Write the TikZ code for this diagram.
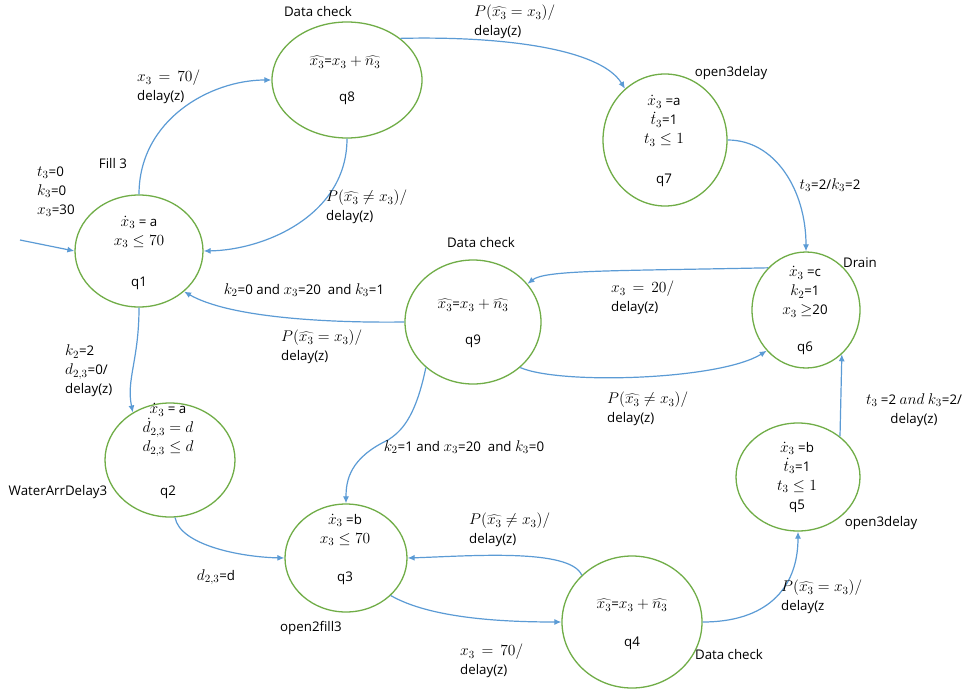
\documentclass[tikz,border=0pt]{standalone}
\usepackage{fix-cm}
\usepackage{fontspec}
\setmainfont{Open Sans}
\DeclareMathSizes{13.3}{15.5}{11}{8}
\usetikzlibrary{arrows.meta,shapes.geometric}
\definecolor{stategreen}{RGB}{112,173,71}
\definecolor{edgeblue}{RGB}{91,155,213}
\begin{document}
\begin{tikzpicture}[x=1pt,y=-1pt,
  qstate/.style={ellipse,draw=stategreen,line width=1.3pt,inner sep=0pt},
  txt/.style={font=\fontsize{13.3}{19}\selectfont,inner sep=0pt,align=center},
  lbl/.style={font=\fontsize{13.3}{19}\selectfont,inner sep=0pt,align=left,anchor=west},
  arr/.style={draw=edgeblue,line width=1.2pt,-{Latex[length=7pt,width=6pt]}}]
\useasboundingbox[fill=white] (0,0) rectangle (973,690);

% states
\node[qstate,minimum width=128pt,minimum height=112pt] (q1) at (139,251) {};
\node[qstate,minimum width=150pt,minimum height=116pt] (q8) at (347,80) {};
\node[qstate,minimum width=124pt,minimum height=132pt] (q7) at (665,140) {};
\node[qstate,minimum width=108pt,minimum height=116pt] (q6) at (806,310) {};
\node[qstate,minimum width=136pt,minimum height=124pt] (q9) at (473,322) {};
\node[qstate,minimum width=130pt,minimum height=114pt] (q2) at (170,460) {};
\node[qstate,minimum width=122pt,minimum height=108pt] (q3) at (346,558) {};
\node[qstate,minimum width=140pt,minimum height=132pt] (q4) at (632,622) {};
\node[qstate,minimum width=124pt,minimum height=108pt] (q5) at (798,477) {};

% state contents
\node[txt] (q1t) at (139,232) {$\dot{x}_3$ = a\\$x_3\le 70$};
\node[txt] (q1l) at (139,283) {q1};
\node[txt] (q8t) at (345,62) {$\widehat{x_3}$=$x_3+\widehat{n_3}$};
\node[txt] (q8l) at (347,98) {q8};
\node[txt] (q7t) at (664,121) {$\dot{x}_3$ =a\\$\dot{t}_3$=1\\$t_3\le 1$};
\node[txt] (q7l) at (664,180) {q7};
\node[txt] (q6t) at (805,292) {$\dot{x}_3$ =c\\$k_2$=1\\$x_3$ $\ge$20};
\node[txt] (q6l) at (805,348) {q6};
\node[txt] (q9t) at (473,305) {$\widehat{x_3}$=$x_3+\widehat{n_3}$};
\node[txt] (q9l) at (473,341) {q9};
\node[txt] (q2t) at (168,430) {$\dot{x}_3$ = a\\$\dot{d}_{2,3}=d$\\$d_{2,3}\le d$};
\node[txt] (q2l) at (168,492) {q2};
\node[txt] (q3t) at (345,530) {$\dot{x}_3$ =b\\$x_3\le 70$};
\node[txt] (q3l) at (345,578) {q3};
\node[txt] (q4t) at (632,605) {$\widehat{x_3}$=$x_3+\widehat{n_3}$};
\node[txt] (q4l) at (632,643) {q4};
\node[txt] (q5t) at (797,477) {$\dot{x}_3$ =b\\$\dot{t}_3$=1\\$t_3\le 1$\\q5};

% state names
\node[txt] (n1) at (113,164) {Fill 3};
\node[txt] (n8) at (318,12) {Data check};
\node[txt] (n7) at (731,73) {open3delay};
\node[txt] (n6) at (860,263) {Drain};
\node[txt] (n9) at (481,243) {Data check};
\node[txt] (n2) at (58,492) {WaterArrDelay3};
\node[txt] (n3) at (311,628) {open2fill3};
\node[txt] (n4) at (729,655) {Data check};
\node[txt] (n5) at (881,523) {open3delay};

% initial
\coordinate (init) at (20,240);
\node[lbl] (initl) at (37,192) {$t_3$=0\\$k_3$=0\\$x_3$=30};

% edges
\draw[arr] (init) -- (q1.west);
\draw[arr] (q1.north) .. controls (139,120) and (210,80) .. (q8.west);
\draw[arr] (q8.south) .. controls (347,215) and (265,250) .. (q1.east);
\draw[arr] (q8.38) .. controls (500,36) and (600,48) .. (q7.128);
\draw[arr] (q7.east) .. controls (775,140) and (806,190) .. (q6.north);
\draw[arr] (q6.132) .. controls (610,271) and (545,270) .. (q9.35);
\draw[arr] (q9.-44) .. controls (560,385) and (720,380) .. (q6.226);
\draw[arr] (q9.west) .. controls (330,323) and (230,318) .. (q1.-42);
\coordinate (w1) at (388,440);
\draw[arr] (q9.224) .. controls (415,420) and (400,432) .. (w1) .. controls (350,458) and (346,480) .. (q3.north);
\draw[arr] (q1.south) .. controls (139,360) and (126,380) .. (q2.128);
\draw[arr] (q2.-85) .. controls (180,545) and (240,557) .. (q3.west);
\draw[arr] (q4.137) .. controls (570,548) and (470,556) .. (q3.east);
\draw[arr] (q3.-40) .. controls (430,618) and (500,622) .. (q4.west);
\draw[arr] (q4.east) .. controls (765,622) and (798,590) .. (q5.south);
\draw[arr] (q5.44) -- (q6.-51);

% edge labels
\node[lbl] (e18) at (137,87) {$x_3\,=\,70/$\\delay(z)};
\node[lbl] (e81) at (326,207) {$P(\widehat{x_3}\neq x_3)/$\\delay(z)};
\node[lbl] (e87) at (474,22) {$P(\widehat{x_3}=x_3)/$\\delay(z)};
\node[txt] (e76) at (830,185) {$t_3$=2/$k_3$=2};
\node[lbl] (e69) at (611,298) {$x_3\,=\,20/$\\delay(z)};
\node[txt] (e91a) at (304,290) {$k_2$=0 and $x_3$=20~ and $k_3$=1};
\node[lbl] (e91b) at (281,347) {$P(\widehat{x_3}=x_3)/$\\delay(z)};
\node[lbl] (e96) at (607,409) {$P(\widehat{x_3}\neq x_3)/$\\delay(z)};
\node[txt] (e93) at (464,447) {$k_2$=1 and $x_3$=20~ and $k_3$=0};
\node[lbl] (e12) at (65,371) {$k_2$=2\\$d_{2,3}$=0/\\delay(z)};
\node[txt] (e23) at (216,577) {$d_{2,3}$=d};
\node[lbl] (e43) at (469,530) {$P(\widehat{x_3}\neq x_3)/$\\delay(z)};
\node[lbl] (e34) at (460,661) {$x_3\,=\,70/$\\delay(z)};
\node[lbl] (e45) at (781,597) {$P(\widehat{x_3}=x_3)/$\\delay(z};
\node[txt] (e56) at (914,410) {$t_3$ =2 $and$ $k_3$=2/\\delay(z)};
\end{tikzpicture}
\end{document}
